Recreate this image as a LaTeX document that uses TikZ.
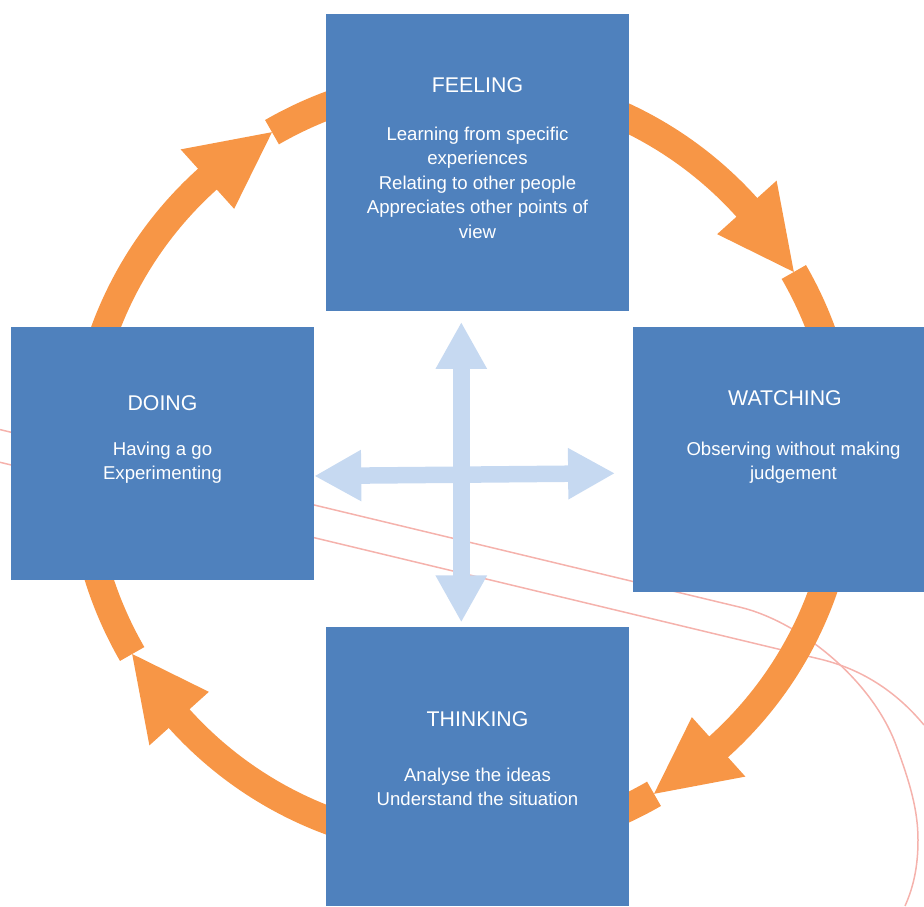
\documentclass[tikz,border=0pt]{standalone}
\usepackage{fontspec}
\setmainfont{Liberation Sans}
\usetikzlibrary{arrows.meta,positioning}
\definecolor{stageblue}{HTML}{4F81BD}
\definecolor{ringorange}{HTML}{F79646}
\definecolor{crossblue}{HTML}{C6D9F1}
\definecolor{tracepink}{HTML}{F5B2AC}
% one quarter of the orange cycle, ending at angle #1
\newcommand{\cyclearrow}[1]{%
  \draw[ring] ([shift={(#1+90:382pt)}]hub) arc[start angle=#1+90, end angle=#1+11.5, radius=382pt];
  \fill[ringorange] ([shift={(#1:382pt)}]hub) -- ([shift={(#1+12:342pt)}]hub) -- ([shift={(#1+12:422pt)}]hub) -- cycle;}

\begin{document}
\begin{tikzpicture}[x=1pt,y=1pt,
    stage/.style={fill=stageblue, inner sep=0pt},
    title/.style={text=white, inner sep=0pt, font=\fontsize{21.3}{25}\selectfont},
    body/.style={text=white, inner sep=0pt, align=center, font=\fontsize{18.6}{24.5}\selectfont},
    ring/.style={draw=ringorange, line width=28pt},
    cross/.style={draw=crossblue, line width=16.5pt, {Triangle[width=48pt,length=47pt]}-{Triangle[width=48pt,length=47pt]}},
    trace/.style={draw=tracepink, line width=1.5pt}]
\useasboundingbox (0,0) rectangle (924,906);
\coordinate (hub) at (463,443);

% pink traces in the background
\draw[trace] (0,476.4) -- (740,298.8) .. controls (800,284.4) and (872,226) .. (896,161)
  .. controls (910,123) and (918,96) .. (918,66) .. controls (918,38) and (913,18) .. (905,0);
\draw[trace] (0,443.7) -- (820,246.9) .. controls (860,237.3) and (895,216) .. (924,181);

% the cycle
\cyclearrow{120}
\cyclearrow{30}
\cyclearrow{-60}
\cyclearrow{-150}

% the four stages
\node[stage, minimum width=303pt, minimum height=297pt] (feeling) at (477.5,743.5) {};
\node[stage, minimum width=291pt, minimum height=265pt] (watching) at (778.5,446.5) {};
\node[stage, minimum width=303pt, minimum height=279pt] (thinking) at (477.5,139.5) {};
\node[stage, minimum width=303pt, minimum height=253pt] (doing) at (162.5,452.5) {};

\node[title, anchor=base] (feelingtitle) at ([yshift=-78.7pt]feeling.north) {FEELING};
\node[body, below=33.7pt of feelingtitle] (feelingtext) {Learning from specific\\experiences\\Relating to other people\\Appreciates other points of\\view};
\node[title, anchor=base] (watchingtitle) at ([xshift=6.5pt,yshift=-78.3pt]watching.north) {WATCHING};
\node[body, below=36pt of watchingtitle, xshift=8.5pt] (watchingtext) {Observing without making\\judgement};
\node[title, anchor=base] (thinkingtitle) at ([yshift=-100pt]thinking.north) {THINKING};
\node[body, below=40.5pt of thinkingtitle] (thinkingtext) {Analyse the ideas\\Understand the situation};
\node[title, anchor=base] (doingtitle) at ([yshift=-84pt]doing.north) {DOING};
\node[body, below=30.5pt of doingtitle] (doingtext) {Having a go\\Experimenting};

% cross in the middle
\draw[cross] ([xshift=-16.2pt,yshift=-10.7pt]feeling.south) -- ([xshift=-16.2pt,yshift=4.3pt]thinking.north);
\draw[cross] ([yshift=-22.5pt]doing.east) -- ([xshift=-17.7pt,yshift=-13.8pt]watching.west);
\end{tikzpicture}
\end{document}
